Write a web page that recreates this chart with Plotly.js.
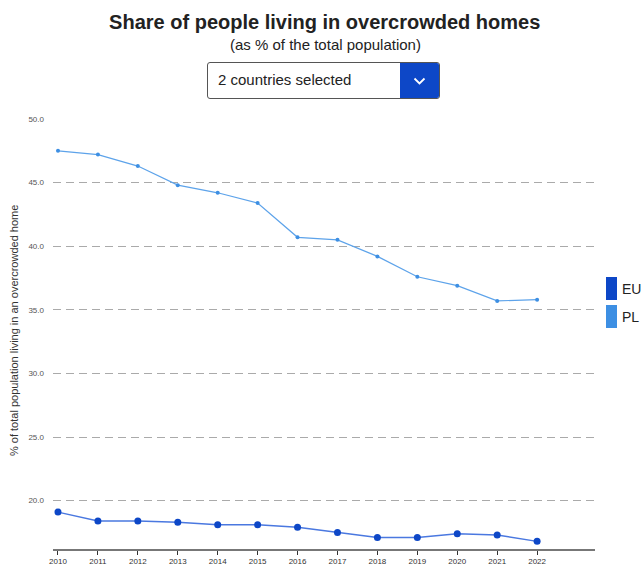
<!DOCTYPE html>
<html>
<head>
<meta charset="utf-8">
<script src="https://cdn.plot.ly/plotly-3.0.1.min.js"></script>
<style>
html,body{margin:0;padding:0;background:#fff;}
#wrap{position:relative;width:643px;height:565px;}
#chart{position:absolute;left:0;top:0;width:643px;height:565px;}
#dd{position:absolute;left:207px;top:62px;width:233px;height:37px;border:1px solid #555;border-radius:3px;box-sizing:border-box;background:#fff;font-family:"Liberation Sans",Arial,sans-serif;font-size:15px;color:#222;}
#dd .txt{position:absolute;left:10px;top:8px;}
#dd .btn{position:absolute;right:0;top:0;width:39px;height:35px;background:#0d47c7;border-radius:0 2px 2px 0;}
#dd svg{position:absolute;left:13px;top:12px;}
</style>
</head>
<body>
<div id="wrap">
<div id="chart"></div>
<div id="dd"><span class="txt">2 countries selected</span><div class="btn"><svg width="13" height="12" viewBox="0 0 13 12"><polyline points="1.5,3.5 6.5,8.5 11.5,3.5" fill="none" stroke="#fff" stroke-width="1.8"/></svg></div></div>
</div>
<script>
const years = [2010,2011,2012,2013,2014,2015,2016,2017,2018,2019,2020,2021,2022];
const euValues = [19.1,18.4,18.4,18.3,18.1,18.1,17.9,17.5,17.1,17.1,17.4,17.3,16.8];
const plValues = [47.5,47.2,46.3,44.8,44.2,43.4,40.7,40.5,39.2,37.6,36.9,35.7,35.8];
const yTicks = [20,25,30,35,40,45,50];
const legendLabels = ['EU','PL'];
const euColor = '#0d47c7';
const plColor = '#3d8fe3';

const T = 119, B = 16, H = 565 - T - B, BOT = 565 - B;

const traces = [
  {x: years, y: plValues, type:'scatter', mode:'lines+markers', name:'PL',
   line:{color:'#5da3ea', width:1.2}, marker:{color:plColor, size:4}},
  {x: years, y: euValues, type:'scatter', mode:'lines+markers', name:'EU',
   line:{color:'#4a78e0', width:1.5}, marker:{color:euColor, size:7}}
];

const layout = {
  width:643, height:565,
  margin:{l:53, r:48, t:T, b:B},
  paper_bgcolor:'#fff', plot_bgcolor:'#fff',
  showlegend:false,
  font:{family:'"Liberation Sans", Arial, sans-serif'},
  title:{text:'<b>Share of people living in overcrowded homes</b>', font:{size:20, color:'#222'},
         xref:'container', x:0.505, xanchor:'center', yref:'container', y:1-22/565, yanchor:'middle'},
  xaxis:{range:[2009.875, 2023.45], tickvals:years, ticktext:years.map(String),
         showgrid:false, zeroline:false, showline:true, linecolor:'#777', linewidth:1.5,
         ticks:'outside', ticklen:4, tickcolor:'#333', tickwidth:1,
         tickfont:{size:8, color:'#333'}},
  yaxis:{range:[16.2, 50], tickvals:yTicks, ticktext:yTicks.map(v=>v.toFixed(1)),
         showgrid:true, gridcolor:'#aaa', griddash:'8px,5px', gridwidth:1,
         zeroline:false, showline:false, ticks:'', ticklabelstandoff:8,
         tickfont:{size:8, color:'#555'}},
  annotations:[
    {text:'(as % of the total population)', xref:'paper', yref:'paper', x:(325-53)/542, y:(BOT-45)/H,
     showarrow:false, font:{size:15, color:'#222'}, xanchor:'center', yanchor:'middle'},
    {text:'% of total population living in an overcrowded home', xref:'paper', yref:'paper',
     x:(14-53)/542, y:(BOT-331)/H, textangle:-90, showarrow:false,
     font:{size:11, color:'#333'}, xanchor:'center', yanchor:'middle'},
    {text:legendLabels[0], xref:'paper', yref:'paper', x:(620-53)/542, y:(BOT-289)/H,
     showarrow:false, xanchor:'left', yanchor:'middle', font:{size:14, color:'#222'}},
    {text:legendLabels[1], xref:'paper', yref:'paper', x:(620-53)/542, y:(BOT-317)/H,
     showarrow:false, xanchor:'left', yanchor:'middle', font:{size:14, color:'#222'}}
  ],
  shapes:[
    {type:'rect', xref:'paper', yref:'paper', x0:(606-53)/542, x1:(617-53)/542,
     y0:(BOT-300)/H, y1:(BOT-277)/H, fillcolor:euColor, line:{width:0}},
    {type:'rect', xref:'paper', yref:'paper', x0:(606-53)/542, x1:(617-53)/542,
     y0:(BOT-328)/H, y1:(BOT-305)/H, fillcolor:plColor, line:{width:0}}
  ]
};

Plotly.newPlot('chart', traces, layout, {displayModeBar:false, staticPlot:true});
</script>
</body>
</html>
